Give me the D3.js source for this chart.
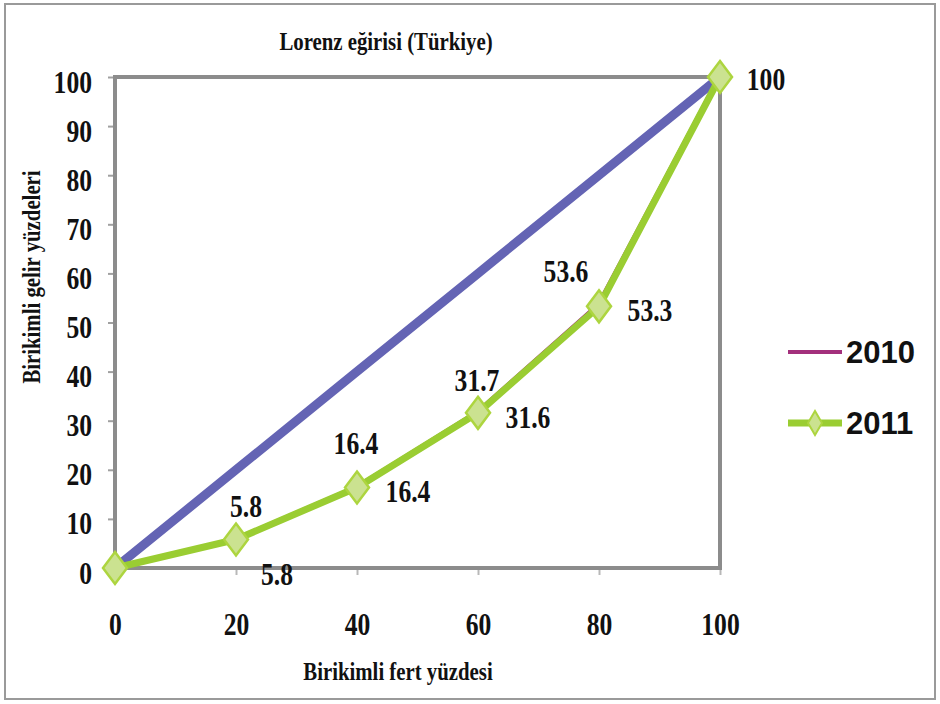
<!DOCTYPE html>
<html>
<head>
<meta charset="utf-8">
<script src="https://cdn.jsdelivr.net/npm/d3@7"></script>
<style>
  body { margin: 0; background: #fff; }
  svg { display: block; }
</style>
</head>
<body>
<svg width="940" height="704"></svg>
<script>
// data
var xShares = [0, 20, 40, 60, 80, 100];
var equality = [0, 20, 40, 60, 80, 100];
var income2010 = [0, 5.8, 16.4, 31.7, 53.6, 100];
var income2011 = [0, 5.8, 16.4, 31.6, 53.3, 100];
var yTicks = [0, 10, 20, 30, 40, 50, 60, 70, 80, 90, 100];
var xTicks = [0, 20, 40, 60, 80, 100];
var seriesNames = ["2010", "2011"];

var svg = d3.select("svg"),
  width = +svg.attr("width"),
  height = +svg.attr("height");

var x = d3.scaleLinear().domain([0, 100]).range([115, 720]);
var y = d3.scaleLinear().domain([0, 100]).range([568, 77]);

var serif = "'Liberation Serif', 'Times New Roman', serif";
var squeeze = 0.8;

// outer border
svg.append("rect")
  .attr("x", 5).attr("y", 4)
  .attr("width", 930).attr("height", 695)
  .attr("fill", "#fff")
  .attr("stroke", "#9a9a9a")
  .attr("stroke-width", 2);

function label(g, tx, ty, txt, size, anchor, rot) {
  return g.append("text")
    .attr("transform", "translate(" + tx + "," + ty + ")" + (rot ? " rotate(" + rot + ")" : "") + " scale(" + squeeze + ",1)")
    .attr("text-anchor", anchor || "middle")
    .style("font-family", serif)
    .style("font-weight", "bold")
    .style("font-size", size + "px")
    .style("fill", "#111")
    .text(txt);
}

// titles
label(svg, 386, 50, "Lorenz eğirisi (Türkiye)", 26);
label(svg, 398, 680, "Birikimli fert yüzdesi", 26);
label(svg, 40, 277, "Birikimli gelir yüzdeleri", 26, "middle", -90);

// axes
var yAxis = svg.append("g")
  .attr("transform", "translate(" + x(0) + ",0)")
  .call(d3.axisLeft(y).tickValues(yTicks).tickSize(7).tickPadding(21.75));
yAxis.select(".domain").remove();
yAxis.selectAll("line").attr("stroke", "#a0a0a0").attr("stroke-width", 2);
yAxis.selectAll("text")
  .attr("dy", 15)
  .attr("transform", "scale(" + squeeze + ",1)")
  .style("font-family", serif).style("font-weight", "bold")
  .style("font-size", "32px").style("fill", "#111");

var xAxis = svg.append("g")
  .attr("transform", "translate(0," + y(0) + ")")
  .call(d3.axisBottom(x).tickValues(xTicks).tickSize(7));
xAxis.select(".domain").remove();
xAxis.selectAll("line").attr("stroke", "#b8b8b8").attr("stroke-width", 2);
xAxis.selectAll("text")
  .attr("y", 67).attr("dy", 0)
  .attr("transform", "scale(" + squeeze + ",1)")
  .style("font-family", serif).style("font-weight", "bold")
  .style("font-size", "32px").style("fill", "#111");

// plot frame
svg.append("rect")
  .attr("x", x(0)).attr("y", y(100))
  .attr("width", x(100) - x(0)).attr("height", y(0) - y(100))
  .attr("fill", "none")
  .attr("stroke", "#8c8c8c")
  .attr("stroke-width", 4);

var line = d3.line()
  .x(function(d, i) { return x(xShares[i]); })
  .y(function(d) { return y(d); });

svg.append("path").datum(equality)
  .attr("d", line).attr("fill", "none")
  .attr("stroke", "#6464b4").attr("stroke-width", 9);

// 2010 sits just under the 2011 line, only peeking out where they differ
svg.append("path").datum(income2010)
  .attr("d", line).attr("fill", "none")
  .attr("stroke", "#a3307c").attr("stroke-width", 3)
  .attr("transform", "translate(-1,-1)");

svg.append("path").datum(income2011)
  .attr("d", line).attr("fill", "none")
  .attr("stroke", "#9acd32").attr("stroke-width", 7)
  .attr("stroke-linejoin", "round");

function diamond(hw, hh) {
  return "M0," + (-hh) + "L" + hw + ",0L0," + hh + "L" + (-hw) + ",0Z";
}

svg.selectAll(".marker").data(income2011).enter().append("path")
  .attr("class", "marker")
  .attr("transform", function(d, i) { return "translate(" + x(xShares[i]) + "," + y(d) + ")"; })
  .attr("d", diamond(12, 16))
  .attr("fill", "#cbe290")
  .attr("stroke", "#add53f")
  .attr("stroke-width", 2.5);

// data labels (placement per point, in pixels)
var place2010 = [null, [10, -23], [-1, -33], [-1, -21], [-33, -23], null];
var place2011 = [null, [41, 45], [51, 15], [50, 15], [51, 15], [46, 13]];

income2010.forEach(function(d, i) {
  if (!place2010[i]) return;
  label(svg, x(xShares[i]) + place2010[i][0], y(d) + place2010[i][1], d3.format(".1f")(d), 32);
});
income2011.forEach(function(d, i) {
  if (!place2011[i]) return;
  var t = d === 100 ? "100" : d3.format(".1f")(d);
  label(svg, x(xShares[i]) + place2011[i][0], y(d) + place2011[i][1], t, 32);
});

// legend
var legend = svg.append("g");
var legendRows = [
  { name: seriesNames[0], color: "#a3307c", w: 4, y: 352 },
  { name: seriesNames[1], color: "#9acd32", w: 7, y: 423 }
];
legendRows.forEach(function(r, i) {
  legend.append("line")
    .attr("x1", 788).attr("x2", 842).attr("y1", r.y).attr("y2", r.y)
    .attr("stroke", r.color).attr("stroke-width", r.w);
  if (i === 1) {
    legend.append("path")
      .attr("transform", "translate(815," + r.y + ")")
      .attr("d", diamond(7, 12))
      .attr("fill", "#cbe290").attr("stroke", "#add53f").attr("stroke-width", 2);
  }
  legend.append("text")
    .attr("x", 846).attr("y", r.y + 11)
    .style("font-family", "'Liberation Sans', Arial, sans-serif")
    .style("font-weight", "bold")
    .style("font-size", "31px")
    .style("fill", "#111")
    .text(r.name);
});
</script>
</body>
</html>
